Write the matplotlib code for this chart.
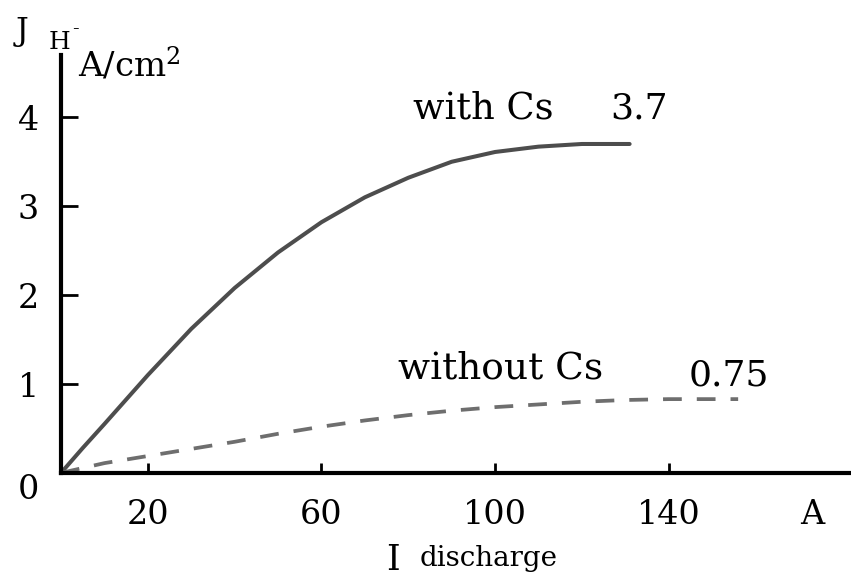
import matplotlib
matplotlib.use("Agg")
import matplotlib.pyplot as plt
from matplotlib.transforms import ScaledTranslation

# Data
x_with = [0, 5, 10, 20, 30, 40, 50, 60, 70, 80, 90, 100, 110, 120, 131]
y_with = [0, 0.28, 0.55, 1.1, 1.62, 2.08, 2.48, 2.82, 3.1, 3.32, 3.5, 3.61, 3.67, 3.7, 3.7]
x_without = [0, 10, 20, 30, 40, 50, 60, 70, 80, 90, 100, 110, 120, 130, 140, 156]
y_without = [0, 0.11, 0.19, 0.27, 0.35, 0.44, 0.52, 0.59, 0.65, 0.7, 0.74, 0.77, 0.8, 0.82, 0.83, 0.83]
xticks = [20, 60, 100, 140]
yticks = [0, 1, 2, 3, 4]

plt.rcParams["font.family"] = "DejaVu Serif"
plt.rcParams["mathtext.fontset"] = "dejavuserif"

fig = plt.figure(figsize=(8.51, 5.86), dpi=100)
ax = fig.add_axes([0.0717, 0.193, 0.9283, 0.713])
ax.set_xlim(0, 182)
ax.set_ylim(0, 4.7)

ax.plot(x_with, y_with, color="#4d4d4d", lw=2.9, solid_capstyle="round")
ax.plot(x_without, y_without, color="#6e6e6e", lw=2.7, dashes=(5, 4))

for s in ["top", "right"]:
    ax.spines[s].set_visible(False)
for s in ["left", "bottom"]:
    ax.spines[s].set_linewidth(3.0)
    ax.spines[s].set_color("black")

ax.set_xticks(xticks)
ax.set_xticklabels([str(v) for v in xticks])
ax.set_yticks(yticks)
ax.set_yticklabels([str(v) for v in yticks])
ax.tick_params(axis="x", direction="in", length=7, width=2, pad=19, labelsize=24)
ax.tick_params(axis="y", direction="in", length=12, width=2, pad=16, labelsize=24)
# the "0" label sits slightly below its tick in the reference
lab0 = ax.get_yticklabels()[0]
lab0.set_transform(lab0.get_transform() + ScaledTranslation(0, -10 / 72, fig.dpi_scale_trans))

ax.text(81, 4.1, "with Cs", fontsize=26.5, ha="left", va="center")
ax.text(126.5, 4.1, "3.7", fontsize=26, ha="left", va="center")
ax.text(77.6, 1.18, "without Cs", fontsize=27, ha="left", va="center")
ax.text(144.5, 1.10, "0.75", fontsize=26, ha="left", va="center")

fig.text(0.026, 0.947, "J", fontsize=23, ha="center", va="center")
fig.text(0.070, 0.928, "H", fontsize=18, ha="center", va="center")
fig.text(0.089, 0.951, "-", fontsize=14, ha="center", va="center")
fig.text(0.092, 0.869, "A/cm$^2$", fontsize=24.5, ha="left", va="baseline")
fig.text(0.954, 0.121, "A", fontsize=24, ha="center", va="center")
fig.text(0.462, 0.044, "I", fontsize=25, ha="center", va="center")
fig.text(0.4935, 0.047, "discharge", fontsize=20, ha="left", va="center")

fig.savefig("out.png", dpi=100)
